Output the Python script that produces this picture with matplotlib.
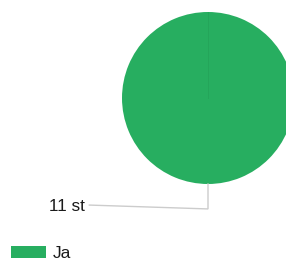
import matplotlib.pyplot as plt
from matplotlib.patches import Patch

# data
labels = ['Ja']
values = [11]
colors = ['#27ae60']

plt.rcParams['font.family'] = ['Liberation Sans', 'DejaVu Sans']

fig = plt.figure(figsize=(2.86, 2.62), dpi=100)
W, H = 286, 262
cx, cy, r = 208, 98, 86  # pie centre/radius in pixels
ax = fig.add_axes([(cx - r) / W, (H - cy - r) / H, 2 * r / W, 2 * r / H])

wedges, _ = ax.pie(values, colors=colors, startangle=90, counterclock=False,
                   radius=1, center=(0, 0), frame=False,
                   wedgeprops=dict(edgecolor='none'))
ax.set_xlim(-1, 1)
ax.set_ylim(-1, 1)
ax.set_aspect('equal')
ax.axis('off')
# seam where the single slice starts
ax.plot([0, 0], [0, 1], color='#24a55a', lw=0.7)

# leader line + label
ax.plot([0, 0, -1.38], [-1.0, -1.29, -1.245], color='#cccccc', lw=1,
        clip_on=False, solid_joinstyle='miter')
ax.text(-1.43, -1.26, f'{values[0]} st', ha='right', va='center',
        fontsize=12.3, color='#1a1a1a', clip_on=False)

handles = [Patch(facecolor=c, edgecolor='none') for c in colors]
fig.legend(handles, labels, loc='center left', bbox_to_anchor=(11 / W, 1 - 253.5 / H),
           frameon=False, fontsize=12.5, handlelength=2.0, handleheight=0.7,
           handletextpad=0.4, borderpad=0, borderaxespad=0, labelcolor='#1a1a1a')

fig.savefig('out.png', dpi=100)
